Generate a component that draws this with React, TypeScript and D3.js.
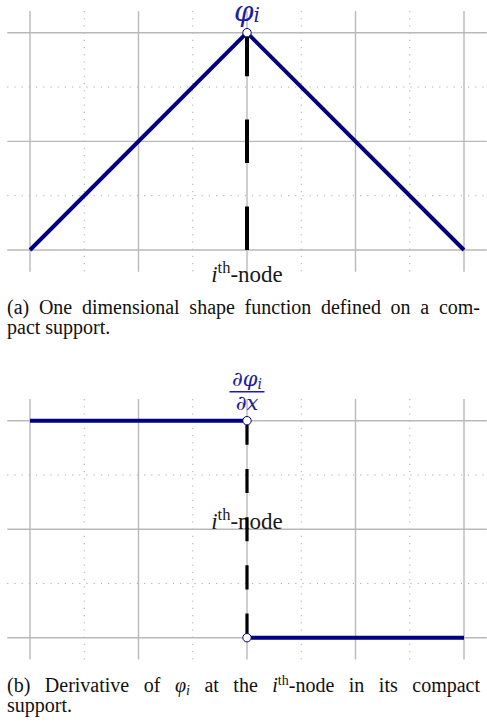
import React, { useLayoutEffect, useRef, useState } from "react";
import * as d3 from "d3";

// Node positions and the hat (shape) function values at those nodes
const shapeX = [-1, 0, 1];
const shapeY = [0, 1, 0];

// Piecewise-constant derivative of the hat function
const derivLeftX = [-1, 0];
const derivLeftY = [1, 1];
const derivRightX = [0, 1];
const derivRightY = [-1, -1];

const nodeX = 0;

// Grid ticks
const majorXTicks = [-1, -0.5, 0, 0.5, 1];
const minorXTicks = [-0.75, -0.25, 0.25, 0.75];
const shapeMajorY = [0, 0.5, 1];
const shapeMinorY = [0.25, 0.75];
const derivMajorY = [-1, 0, 1];
const derivMinorY = [-0.5, 0.5];

// Caption lines
const captionA1 = "(a) One dimensional shape function defined on a com-";
const captionA2 = "pact support.";
const captionB2 = "support.";

const W = 487;
const H = 723;
const NAVY = "#000080";
const LABEL_BLUE = "#1e1e9a";
const MAJOR = "#b9b9b9";
const MINOR = "#a9a9a9";
const SERIF = "'Liberation Serif', 'Times New Roman', serif";
const MATH = "'DejaVu Serif', serif";
const CAPTION_SIZE = 20;

const xScale = d3.scaleLinear().domain([-1, 1]).range([30, 464]);
const xExtent: [number, number] = [-1.105, 1.105];

type GridProps = {
  yScale: d3.ScaleLinear<number, number>;
  yExtent: [number, number];
  majorY: number[];
  minorY: number[];
};

function Grid({ yScale, yExtent, majorY, minorY }: GridProps) {
  const [x0, x1] = xExtent.map(xScale);
  const [y0, y1] = yExtent.map(yScale);
  return (
    <g>
      <g stroke={MINOR} strokeWidth={1} strokeDasharray="1.2 6">
        {minorXTicks.map((t) => (
          <line key={"mx" + t} x1={xScale(t)} x2={xScale(t)} y1={y1} y2={y0} />
        ))}
        {minorY.map((t) => (
          <line key={"my" + t} x1={x0} x2={x1} y1={yScale(t)} y2={yScale(t)} />
        ))}
      </g>
      <g stroke={MAJOR} strokeWidth={1.4}>
        {majorXTicks.map((t) => (
          <line key={"Mx" + t} x1={xScale(t)} x2={xScale(t)} y1={y1} y2={y0} />
        ))}
        {majorY.map((t) => (
          <line key={"My" + t} x1={x0} x2={x1} y1={yScale(t)} y2={yScale(t)} />
        ))}
      </g>
    </g>
  );
}

function JustifiedText({
  x,
  y,
  width,
  fontSize,
  children,
}: {
  x: number;
  y: number;
  width: number;
  fontSize: number;
  children: React.ReactNode;
}) {
  const ref = useRef<SVGTextElement>(null);
  const [ws, setWs] = useState(0);
  useLayoutEffect(() => {
    const el = ref.current;
    if (!el) return;
    el.style.wordSpacing = "0px";
    const natural = el.getComputedTextLength();
    const spaces = (el.textContent || "").split(" ").length - 1;
    if (spaces > 0) setWs((width - natural) / spaces);
  }, [width]);
  return (
    <text
      ref={ref}
      x={x}
      y={y}
      fontFamily={SERIF}
      fontSize={fontSize}
      fill="#111"
      style={{ wordSpacing: `${ws}px` }}
    >
      {children}
    </text>
  );
}

function NodeLabel({ x, y }: { x: number; y: number }) {
  return (
    <text x={x} y={y} textAnchor="middle" fontFamily={SERIF} fontSize={23} fill="#1a1a1a">
      <tspan fontStyle="italic">i</tspan>
      <tspan fontSize={16.5} dy={-9}>th</tspan>
      <tspan dy={9}>-node</tspan>
    </text>
  );
}

export default function App() {
  // Panel (a): shape function
  const yA = d3.scaleLinear().domain([0, 1]).range([250, 32.7]);
  const lineA = d3
    .line<number>()
    .x((_, i) => xScale(shapeX[i]))
    .y((_, i) => yA(shapeY[i]));
  const dashA = (yA(0) - yA(1)) / 5;

  // Panel (b): derivative
  const yB = d3.scaleLinear().domain([-1, 1]).range([637.7, 420.7]);
  const seg = (xs: number[], ys: number[]) =>
    d3
      .line<number>()
      .x((_, i) => xScale(xs[i]))
      .y((_, i) => yB(ys[i]))(xs) || "";
  const dashB = (yB(-1) - yB(1)) / 9;

  const cx = xScale(nodeX);
  const peakIdx = shapeX.indexOf(nodeX);

  return (
    <svg
      width={W}
      height={H}
      viewBox={`0 0 ${W} ${H}`}
      style={{ position: "absolute", left: 0, top: 0, background: "#fff" }}
    >
      <rect width={W} height={H} fill="#fff" />

      {/* Panel (a) */}
      <Grid yScale={yA} yExtent={[-0.1, 1.1]} majorY={shapeMajorY} minorY={shapeMinorY} />
      <path d={lineA(shapeX) || ""} fill="none" stroke={NAVY} strokeWidth={4} strokeLinejoin="round" />
      <line
        x1={cx}
        x2={cx}
        y1={yA(shapeY[peakIdx])}
        y2={yA(0)}
        stroke="#000"
        strokeWidth={4}
        strokeDasharray={`${dashA} ${dashA}`}
      />
      <circle cx={cx} cy={yA(shapeY[peakIdx])} r={4.2} fill="#fff" stroke={NAVY} strokeWidth={1} />
      <text x={cx} y={yA(1) - 11.5} textAnchor="middle" fontFamily={MATH} fontStyle="italic" fill={LABEL_BLUE}>
        <tspan fontSize={28}>φ</tspan>
        <tspan fontSize={20} dy={0.5}>i</tspan>
      </text>
      <NodeLabel x={cx} y={yA(0) + 31.5} />

      <JustifiedText x={7} y={314} width={473} fontSize={CAPTION_SIZE}>
        {captionA1}
      </JustifiedText>
      <text x={7} y={334} fontFamily={SERIF} fontSize={CAPTION_SIZE} fill="#111">
        {captionA2}
      </text>

      {/* Panel (b) */}
      <Grid yScale={yB} yExtent={[-1.2, 1.2]} majorY={derivMajorY} minorY={derivMinorY} />
      <NodeLabel x={cx} y={yB(0) - 0.5} />
      <path d={seg(derivLeftX, derivLeftY)} fill="none" stroke={NAVY} strokeWidth={4} />
      <path d={seg(derivRightX, derivRightY)} fill="none" stroke={NAVY} strokeWidth={4} />
      <line
        x1={cx}
        x2={cx}
        y1={yB(derivLeftY[1])}
        y2={yB(derivRightY[0])}
        stroke="#000"
        strokeWidth={3.2}
        strokeDasharray={`${dashB} ${dashB}`}
      />
      <circle cx={cx} cy={yB(derivLeftY[1])} r={4.2} fill="#fff" stroke={NAVY} strokeWidth={1} />
      <circle cx={cx} cy={yB(derivRightY[0])} r={4.2} fill="#fff" stroke={NAVY} strokeWidth={1} />
      <g fontFamily={MATH} fontStyle="italic" fill={LABEL_BLUE} textAnchor="middle">
        <text x={cx} y={yB(1) - 35} fontSize={21}>
          ∂φ<tspan fontSize={14} dy={3}>i</tspan>
        </text>
        <line x1={cx - 17.5} x2={cx + 17.5} y1={yB(1) - 29} y2={yB(1) - 29} stroke={LABEL_BLUE} strokeWidth={1.6} />
        <text x={cx} y={yB(1) - 11} fontSize={21}>
          ∂x
        </text>
      </g>

      <JustifiedText x={7} y={691.5} width={473} fontSize={CAPTION_SIZE}>
        (b) Derivative of <tspan fontStyle="italic">φ</tspan>
        <tspan fontSize={14} fontStyle="italic" dy={3}>i</tspan>
        <tspan dy={-3}> at the </tspan>
        <tspan fontStyle="italic">i</tspan>
        <tspan fontSize={14} dy={-7}>th</tspan>
        <tspan dy={7}>-node in its compact</tspan>
      </JustifiedText>
      <text x={7} y={711.5} fontFamily={SERIF} fontSize={CAPTION_SIZE} fill="#111">
        {captionB2}
      </text>
    </svg>
  );
}
